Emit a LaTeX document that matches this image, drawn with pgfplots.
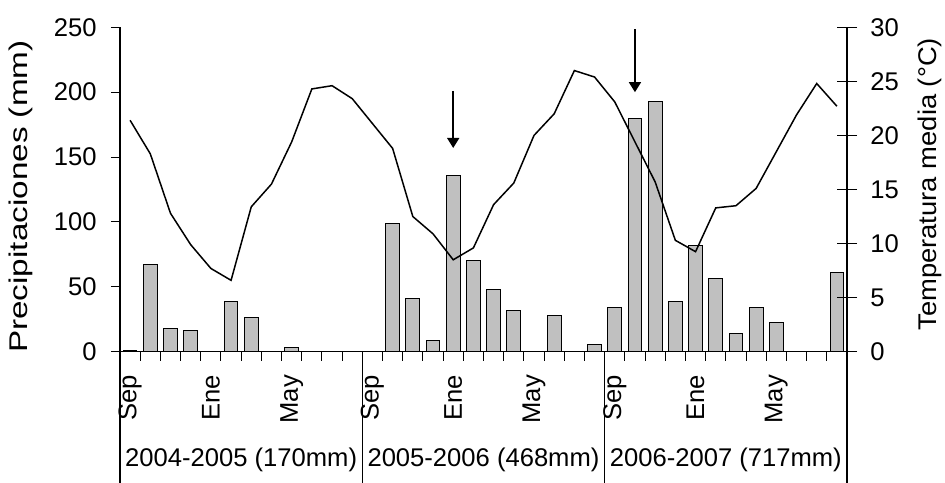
\documentclass[border=0pt]{standalone}
\usepackage{fontspec}
\setmainfont{Liberation Sans}
\usepackage{pgfplots}
\usepackage{pgfplotstable}
\pgfplotsset{compat=1.18}
\usetikzlibrary{arrows.meta}

\definecolor{bargray}{RGB}{192,192,192}

% Monthly rainfall (mm), Sep 2004 - Aug 2007, plotted at month centres
\pgfplotstableread{
m    prec
0.5  1
1.5  67
2.5  18
3.5  16.5
5.5  39
6.5  26
8.5  3
13.5 99
14.5 41
15.5 8.5
16.5 136
17.5 70
18.5 48
19.5 32
21.5 28
23.5 5.5
24.5 34.2
25.5 180
26.5 192.6
27.5 38.8
28.5 82
29.5 56.5
30.5 14.2
31.5 34.2
32.5 22.3
35.5 61.2
}\prectable

% Monthly mean temperature (deg C)
\pgfplotstableread{
m    temp
0.5  21.4
1.5  18.3
2.5  12.8
3.5  9.9
4.5  7.7
5.5  6.6
6.5  13.4
7.5  15.5
8.5  19.4
9.5  24.3
10.5 24.6
11.5 23.4
12.5 21.1
13.5 18.8
14.5 12.5
15.5 10.9
16.5 8.5
17.5 9.6
18.5 13.6
19.5 15.6
20.5 20.0
21.5 22.0
22.5 26.0
23.5 25.4
24.5 23.1
25.5 19.4
26.5 15.7
27.5 10.3
28.5 9.25
29.5 13.3
30.5 13.5
31.5 15.1
32.5 18.5
33.5 21.9
34.5 24.8
35.5 22.7
}\temptable

\newcommand{\lblfont}{\fontsize{12.8}{15}\selectfont}

\begin{document}
\begin{tikzpicture}[font=\lblfont]
\path[use as bounding box] (-60pt,-65.15pt) rectangle (412.5pt,175.85pt);

% rainfall axis (left)
\begin{axis}[
  at={(0,0)}, anchor=south west,
  width=363.5pt, height=162.2pt, scale only axis,
  xmin=0, xmax=36, ymin=0, ymax=250,
  axis x line*=bottom, axis y line*=left,
  axis line style={line width=0.6pt, black},
  clip=false,
  tick align=outside,
  major tick length=4.5pt,
  tick style={line width=0.5pt, black},
  xtick={0,1,...,36}, xticklabels={},
  extra x ticks={0.5,4.5,8.5,12.5,16.5,20.5,24.5,28.5,32.5},
  extra x tick labels={Sep,Ene,May,Sep,Ene,May,Sep,Ene,May},
  extra x tick style={major tick length=0pt,
    xticklabel style={rotate=90, anchor=east, inner sep=0pt, font=\lblfont}},
  xticklabel shift=11.5pt,
  ytick={0,50,...,250},
  yticklabel style={anchor=east, inner sep=0pt, font=\lblfont},
  yticklabel shift=7pt,
  /pgf/number format/assume math mode=true,
  ylabel={\scalebox{1.3}[1]{Precipitaciones (mm)}},
  ylabel style={at={([xshift=-46pt]axis description cs:0,0.478)},
    anchor=base, font=\lblfont},
]
\addplot[ybar, bar width=0.68, fill=bargray, draw=black, line width=0.5pt]
  table[x=m, y=prec] {\prectable};

% dates of interest
\addplot[line width=0.8pt, -{Triangle[width=6pt,length=5pt]}]
  coordinates {(16.5,201) (16.5,157)};
\addplot[line width=0.8pt, -{Triangle[width=6pt,length=5pt]}]
  coordinates {(25.5,248.6) (25.5,200)};

% hydrological-year separators
\draw[line width=0.6pt] (axis cs:0,0) -- ++(0pt,-70pt);
\draw[line width=0.6pt] (axis cs:12,0) -- ++(0pt,-70pt);
\draw[line width=0.6pt] (axis cs:24,0) -- ++(0pt,-70pt);
\draw[line width=0.6pt] (axis cs:36,0) -- ++(0pt,-70pt);
\node[anchor=base] at ([yshift=-57.5pt]axis cs:6,0) {2004-2005 (170mm)};
\node[anchor=base] at ([yshift=-57.5pt]axis cs:18,0) {2005-2006 (468mm)};
\node[anchor=base] at ([yshift=-57.5pt]axis cs:30,0) {2006-2007 (717mm)};
\end{axis}

% temperature axis (right)
\begin{axis}[
  at={(0,0)}, anchor=south west,
  width=363.5pt, height=162.2pt, scale only axis,
  xmin=0, xmax=36, ymin=0, ymax=30,
  axis x line=none, axis y line*=right,
  axis line style={line width=0.6pt, black},
  clip=false,
  tick align=center,
  major tick length=10pt,
  tick style={line width=0.5pt, black},
  ytick={0,5,...,30},
  yticklabel style={anchor=west, inner sep=0pt, font=\lblfont},
  yticklabel shift=6.5pt,
  /pgf/number format/assume math mode=true,
  ylabel={\scalebox{1.07}[1]{Temperatura media (°C)}},
  ylabel style={at={([xshift=44.5pt]axis description cs:1,0.516)},
    anchor=base, font=\lblfont},
]
\addplot[line width=0.75pt, black, mark=none] table[x=m, y=temp] {\temptable};
\end{axis}
\end{tikzpicture}
\end{document}
